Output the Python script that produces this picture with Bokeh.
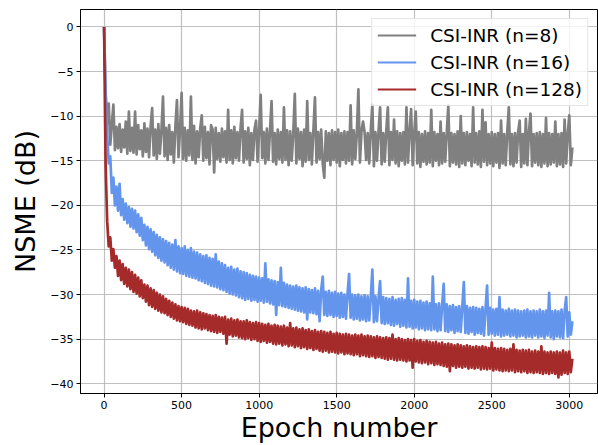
from bokeh.plotting import figure
from bokeh.models import Range1d, FixedTicker, Legend, LegendItem
from bokeh.embed import file_html
from bokeh.resources import INLINE

# epochs sampled every 10
epochs = list(range(0, 3021, 10))

labels = ["CSI-INR (n=8)", "CSI-INR (n=16)", "CSI-INR (n=128)"]
colors = ["#808080", "#6495ED", "#A52A2A"]

nmse_n8 = [
    0, -7.5, -10.8, -8.6, -13.2, -11.0, -8.7, -13.8, -11.2, -13.6,
    -10.9, -14.0, -11.5, -13.5, -10.6, -14.2, -9.5, -13.9, -11.3, -14.1,
    -9.5, -14.3, -11.0, -13.7, -11.6, -14.5, -10.8, -14.0, -11.4, -14.6,
    -11.2, -9.1, -14.4, -11.5, -14.8, -10.9, -14.2, -11.6, -7.8, -14.5,
    -11.3, -14.9, -11.0, -14.3, -11.8, -15.2, -11.2, -8.2, -14.6, -11.5,
    -7.4, -14.8, -11.3, -15.0, -11.6, -14.4, -7.8, -14.9, -11.1, -15.3,
    -11.7, -14.6, -11.4, -9.9, -15.0, -11.2, -14.7, -11.8, -15.4, -11.0,
    -11.5, -16.3, -11.3, -14.8, -11.9, -15.1, -11.4, -14.6, -11.7, -15.2,
    -9.3, -14.9, -11.6, -15.3, -11.2, -14.7, -11.8, -15.0, -11.4, -9.3,
    -15.2, -11.7, -14.8, -11.3, -15.5, -11.9, -14.9, -11.5, -10.5, -15.1,
    -11.6, -7.6, -14.7, -11.8, -15.3, -11.4, -14.9, -11.7, -8.3, -15.1,
    -11.9, -15.4, -11.5, -14.8, -11.8, -15.2, -9.0, -14.9, -11.6, -15.5,
    -11.7, -15.0, -11.9, -7.5, -15.3, -11.4, -14.8, -11.8, -15.6, -11.5,
    -15.1, -8.3, -14.9, -11.9, -15.4, -11.6, -7.9, -15.2, -11.8, -14.8,
    -11.5, -15.3, -16.9, -11.7, -15.0, -11.9, -15.5, -11.6, -14.9, -11.8,
    -15.2, -11.5, -15.6, -11.9, -14.9, -11.7, -15.3, -11.8, -15.0, -8.8,
    -15.4, -11.6, -14.8, -11.9, -7.0, -15.2, -11.7, -10.6, -11.8, -14.9,
    -11.9, -15.3, -11.6, -8.7, -15.6, -11.8, -15.0, -11.7, -9.0, -15.4,
    -11.9, -15.1, -11.6, -9.0, -15.5, -11.8, -14.9, -10.4, -15.3, -11.7,
    -15.6, -11.9, -15.0, -11.8, -15.4, -9.0, -15.2, -11.7, -9.2, -15.5,
    -11.9, -9.5, -15.3, -11.8, -15.7, -12.0, -15.1, -11.7, -15.4, -11.9,
    -15.2, -9.3, -15.6, -11.8, -15.0, -12.0, -15.5, -10.6, -15.3, -11.9,
    -15.1, -11.8, -8.8, -15.6, -11.9, -15.2, -12.0, -15.4, -11.7, -15.7,
    -10.0, -15.3, -11.9, -15.5, -11.8, -15.0, -12.0, -15.6, -9.0, -15.2,
    -11.9, -15.4, -11.7, -15.7, -9.3, -15.1, -10.7, -15.5, -12.0, -15.3,
    -11.8, -15.6, -12.0, -15.2, -11.9, -15.8, -10.5, -15.3, -12.0, -15.5,
    -11.8, -9.0, -15.4, -12.0, -15.6, -11.9, -15.2, -11.8, -10.5, -15.7,
    -12.0, -15.3, -10.3, -15.5, -11.8, -9.7, -15.6, -12.0, -15.2, -11.9,
    -15.5, -11.8, -15.7, -12.0, -15.3, -10.2, -15.6, -11.9, -15.4, -12.0,
    -15.2, -10.6, -15.6, -12.0, -15.4, -11.9, -15.7, -10.4, -15.3, -12.0,
    -9.9, -15.5, -13.5,
]

nmse_n16 = [
    0, -7.5, -12.0, -15.3, -14.5, -18.6, -16.9, -20.0, -17.9, -20.6,
    -17.6, -21.1, -19.3, -21.6, -19.8, -22.0, -20.2, -22.4, -20.4, -22.6,
    -20.6, -23.0, -21.0, -23.4, -21.4, -23.9, -22.2, -24.5, -22.4, -24.9,
    -22.7, -25.2, -23.0, -25.6, -23.3, -25.9, -23.6, -26.2, -23.8, -26.4,
    -24.0, -26.7, -24.2, -27.0, -24.4, -27.2, -23.9, -27.4, -24.6, -27.6,
    -24.8, -27.7, -24.6, -27.9, -25.0, -28.0, -24.8, -28.1, -25.2, -28.2,
    -25.3, -28.4, -25.5, -28.5, -25.7, -28.7, -25.6, -28.8, -25.9, -29.0,
    -26.0, -29.1, -25.5, -29.2, -26.3, -29.4, -26.5, -29.5, -26.7, -29.7,
    -27.0, -29.9, -26.9, -30.0, -27.2, -30.1, -27.1, -30.3, -27.4, -30.4,
    -27.5, -30.6, -27.6, -30.5, -27.8, -30.7, -27.9, -30.6, -28.0, -30.8,
    -28.1, -30.7, -28.2, -30.9, -26.5, -30.8, -28.3, -31.0, -28.4, -31.1,
    -28.5, -32.3, -28.6, -31.2, -27.0, -31.3, -28.7, -31.4, -28.9, -31.5,
    -29.0, -31.6, -29.1, -31.7, -29.0, -31.8, -29.2, -31.9, -29.3, -32.0,
    -29.2, -32.8, -29.4, -32.0, -29.5, -32.1, -29.3, -32.2, -29.6, -33.0,
    -29.5, -28.0, -32.3, -29.7, -32.4, -29.6, -32.3, -29.8, -32.5, -29.7,
    -32.4, -29.9, -32.6, -29.8, -32.5, -30.0, -32.7, -29.9, -27.7, -32.6,
    -30.0, -32.8, -30.1, -32.7, -30.0, -32.9, -30.2, -32.8, -30.1, -33.0,
    -30.2, -32.9, -30.3, -27.2, -33.1, -30.2, -33.0, -30.4, -28.5, -33.2,
    -30.3, -33.3, -30.4, -33.2, -30.5, -33.4, -30.3, -33.5, -30.6, -33.3,
    -30.5, -33.6, -30.4, -33.5, -30.6, -33.7, -28.2, -33.6, -30.7, -33.8,
    -30.6, -33.7, -30.8, -33.9, -30.7, -33.8, -30.9, -34.0, -30.8, -33.9,
    -31.0, -34.0, -28.0, -33.9, -31.1, -34.1, -31.0, -34.0, -31.2, -28.8,
    -34.1, -31.1, -34.2, -31.3, -34.0, -31.2, -34.3, -31.4, -34.1, -31.3,
    -34.2, -31.4, -28.6, -34.3, -31.3, -34.4, -31.5, -34.2, -31.4, -34.5,
    -31.5, -34.3, -31.6, -34.4, -31.4, -34.6, -31.6, -29.0, -34.5, -31.5,
    -34.4, -31.7, -34.6, -31.6, -34.5, -30.3, -34.7, -31.7, -34.6, -31.8,
    -34.5, -31.6, -34.7, -31.8, -34.6, -31.7, -34.8, -31.8, -34.7, -31.9,
    -34.6, -31.8, -34.8, -31.7, -34.7, -31.9, -34.8, -31.8, -34.6, -31.9,
    -34.8, -31.7, -34.7, -31.9, -34.9, -31.8, -34.6, -29.8, -34.8, -31.9,
    -35.0, -31.8, -34.7, -31.9, -34.8, -31.7, -34.9, -31.9, -30.3, -34.7,
    -32.0, -34.5, -33.0,
]

nmse_n128 = [
    0, -15.5, -21.8, -24.6, -23.6, -26.2, -24.9, -27.0, -25.7, -27.9,
    -26.2, -28.4, -26.6, -28.8, -27.0, -29.1, -27.2, -29.4, -27.5, -29.7,
    -27.8, -29.9, -28.1, -30.2, -28.4, -30.4, -28.9, -30.8, -29.0, -31.2,
    -29.3, -31.4, -29.5, -31.6, -29.8, -31.8, -30.0, -32.0, -30.2, -32.1,
    -30.5, -32.3, -30.7, -32.5, -30.9, -32.7, -31.1, -32.9, -31.3, -33.0,
    -31.4, -33.1, -31.5, -33.3, -31.6, -33.4, -31.8, -33.5, -31.9, -33.7,
    -31.8, -33.8, -32.0, -33.9, -32.1, -33.8, -32.2, -34.0, -32.3, -34.1,
    -32.4, -34.2, -32.3, -34.3, -32.5, -34.2, -32.6, -34.4, -32.5, -35.5,
    -32.8, -34.5, -32.7, -34.7, -32.9, -34.6, -32.8, -34.8, -33.0, -34.9,
    -33.0, -35.0, -32.9, -34.9, -33.1, -35.1, -33.2, -35.0, -33.1, -35.2,
    -33.2, -35.3, -33.3, -35.2, -33.4, -35.4, -33.3, -35.3, -33.5, -35.5,
    -33.4, -35.6, -33.5, -35.5, -33.6, -35.7, -33.5, -35.6, -33.7, -35.8,
    -33.2, -35.7, -33.8, -35.9, -33.7, -35.8, -33.9, -36.0, -33.8, -35.9,
    -34.0, -36.1, -33.9, -36.0, -34.1, -36.2, -34.0, -36.1, -34.2, -36.3,
    -34.1, -36.4, -34.2, -36.3, -34.3, -36.5, -34.2, -36.4, -34.4, -36.5,
    -34.3, -36.6, -34.4, -36.5, -34.5, -36.7, -34.4, -36.6, -34.5, -36.7,
    -34.6, -36.8, -34.5, -36.7, -34.6, -36.9, -34.5, -36.8, -34.7, -36.9,
    -34.6, -37.0, -34.7, -36.9, -34.8, -37.1, -34.7, -37.0, -34.8, -37.1,
    -34.9, -37.2, -34.8, -37.3, -34.9, -37.2, -34.5, -37.3, -35.0, -37.4,
    -34.9, -37.3, -35.0, -37.4, -35.1, -37.5, -35.0, -37.4, -35.1, -38.2,
    -35.0, -37.5, -35.2, -37.6, -35.1, -37.7, -35.3, -37.6, -35.2, -37.8,
    -35.3, -37.7, -35.4, -37.9, -35.3, -37.8, -35.5, -37.9, -35.4, -38.0,
    -35.6, -38.1, -35.5, -38.6, -35.6, -38.0, -35.7, -38.2, -35.6, -38.1,
    -35.7, -38.2, -35.8, -38.1, -35.7, -38.3, -35.8, -38.2, -35.9, -38.3,
    -35.8, -38.2, -35.9, -38.4, -35.8, -38.3, -35.9, -38.4, -36.0, -38.3,
    -35.4, -38.5, -36.0, -38.4, -36.1, -38.5, -36.0, -38.6, -36.1, -38.5,
    -36.2, -38.6, -36.1, -38.5, -35.6, -38.7, -36.2, -38.6, -36.3, -38.7,
    -36.2, -38.6, -36.3, -38.8, -36.2, -38.7, -36.4, -38.8, -36.3, -38.7,
    -36.4, -38.8, -35.8, -38.9, -36.4, -38.8, -36.5, -38.9, -36.4, -38.8,
    -36.5, -38.9, -36.4, -39.3, -36.5, -39.0, -36.3, -38.8, -36.5, -38.9,
    -36.4, -38.7, -37.2,
]

y_ticks = [-40, -35, -30, -25, -20, -15, -10, -5, 0]
x_ticks = [0, 500, 1000, 1500, 2000, 2500, 3000]

FONT = "DejaVu Sans"
NAN = float("nan")

p = figure(width=598, height=445, output_backend="svg", toolbar_location=None,
           x_range=Range1d(-152, 3182), y_range=Range1d(-41.1, 1.96),
           min_border_left=80, min_border_right=1, min_border_top=9,
           min_border_bottom=51)

items = []
for vals, lab, col in zip([nmse_n8, nmse_n16, nmse_n128], labels, colors):
    p.line(epochs, vals, line_color=col, line_width=2.7, line_join="round")
    key = p.line([NAN], [NAN], line_color=col, line_width=2)
    items.append(LegendItem(label=lab, renderers=[key]))

p.outline_line_color = "black"
p.outline_line_width = 1
p.background_fill_color = "white"
p.border_fill_color = "white"

p.xgrid.grid_line_color = "#b0b0b0"
p.ygrid.grid_line_color = "#b0b0b0"
p.xgrid.grid_line_width = 1.2
p.ygrid.grid_line_width = 1.2
p.xgrid.grid_line_alpha = 0.8
p.ygrid.grid_line_alpha = 0.8

p.xaxis.ticker = FixedTicker(ticks=x_ticks)
p.yaxis.ticker = FixedTicker(ticks=y_ticks)
p.yaxis.major_label_overrides = {t: ("\u2212" + str(-t) if t < 0 else str(t)) for t in y_ticks}

for ax in (p.xaxis, p.yaxis):
    ax.axis_line_color = "black"
    ax.axis_line_width = 1
    ax.major_tick_line_color = "black"
    ax.major_tick_out = 4
    ax.major_tick_in = 0
    ax.minor_tick_line_color = None
    ax.major_label_text_font = FONT
    ax.major_label_text_font_size = "11px"
    ax.major_label_text_color = "black"
    ax.major_label_standoff = 3
    ax.axis_label_text_font = FONT
    ax.axis_label_text_font_size = "27px"
    ax.axis_label_text_font_style = "normal"
    ax.axis_label_text_color = "black"

p.xaxis.axis_label = "Epoch number"
p.yaxis.axis_label = "NSME (dB)"
p.xaxis.axis_label_standoff = 0
p.yaxis.axis_label_standoff = 6

lg = Legend(items=items, location="top_right")
lg.margin = 9
lg.padding = 5
lg.spacing = 5
lg.label_height = 22
lg.glyph_height = 22
lg.glyph_width = 39
lg.label_standoff = 14
lg.label_text_font = FONT
lg.label_text_font_size = "18.5px"
lg.label_text_color = "black"
lg.border_line_color = "#cccccc"
lg.border_line_width = 1
lg.background_fill_alpha = 0.8
p.add_layout(lg)

open("out.html", "w").write(file_html(p, INLINE))
